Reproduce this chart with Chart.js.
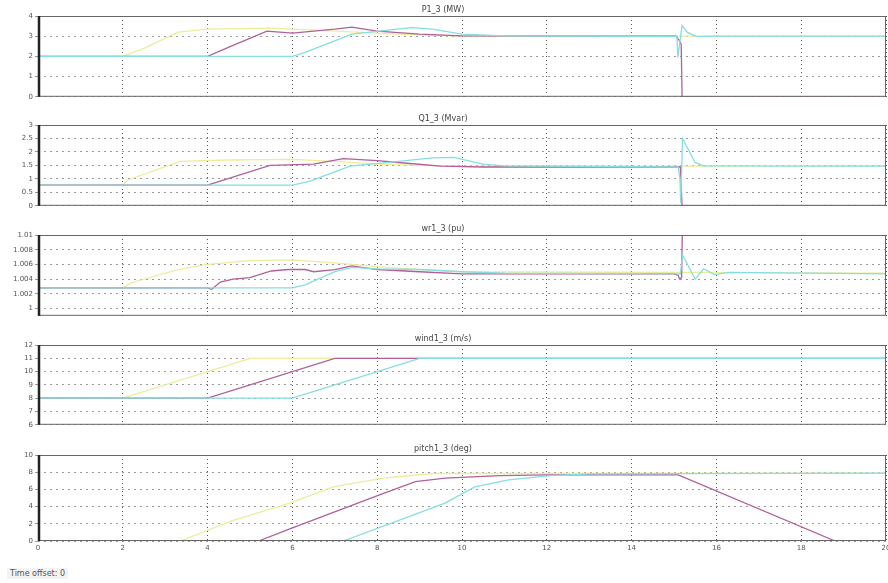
<!DOCTYPE html>
<html lang="en">
<head>
  <meta charset="UTF-8">
  <title>Scope – turbine signals</title>
  <script src="https://cdn.jsdelivr.net/npm/chart.js"></script>
  <style>
    body { margin:0; background:#fff; width:888px; height:583px; position:relative; overflow:hidden; font-family:"DejaVu Sans", sans-serif; }
    canvas { position:absolute; left:0; }
    #offset { position:absolute; left:7px; top:568px; font-size:8px; color:#555; background:#f3f3f3; padding:1px 3px; }
  </style>
</head>
<body>
  <canvas id="c0"></canvas>
  <canvas id="c1"></canvas>
  <canvas id="c2"></canvas>
  <canvas id="c3"></canvas>
  <canvas id="c4"></canvas>
  <div id="offset">Time offset: 0</div>
<script>
// time axis (s)
const xTicks = [0, 2, 4, 6, 8, 10, 12, 14, 16, 18, 20];

// panel titles
const titles = ['P1_3 (MW)', 'Q1_3 (Mvar)', 'wr1_3 (pu)', 'wind1_3 (m/s)', 'pitch1_3 (deg)'];

// y tick values per panel
const pTicks = [0, 1, 2, 3, 4];
const qTicks = [0, 0.5, 1, 1.5, 2, 2.5, 3];
const wrTicks = [1, 1.002, 1.004, 1.006, 1.008, 1.01];
const windTicks = [6, 7, 8, 9, 10, 11, 12];
const pitchTicks = [0, 2, 4, 6, 8, 10];

// series as [t, value] pairs
const pYellow = [[0,0],[0.02,2],[2,2],[2.5,2.4],[3.3,3.2],[4,3.35],[5.5,3.4],[6.5,3.3],[7.5,3.2],[8.5,3.1],[10,3.0],[20,3.0]];
const pMagenta = [[0,0],[0.02,2],[4,2],[4.6,2.55],[5.4,3.25],[6,3.15],[7,3.35],[7.4,3.45],[8,3.25],[9,3.1],[10,3.02],[15.05,3.0],[15.12,2.8],[15.17,2.6],[15.19,0],[20,0]];
const pCyan = [[0,0],[0.02,2],[6,2],[6.3,2.2],[7.4,3.1],[8.1,3.26],[8.8,3.42],[9.3,3.35],[10,3.1],[11,3.02],[15.07,2.98],[15.09,1.95],[15.19,3.53],[15.31,3.2],[15.54,2.98],[16,3.0],[20,3.0]];

const qYellow = [[0,0.77],[2,0.77],[2.1,0.95],[3.35,1.65],[4.5,1.7],[6,1.72],[7,1.65],[8,1.55],[9,1.5],[10,1.47],[20,1.47]];
const qMagenta = [[0,0.77],[4,0.77],[5.47,1.5],[6.5,1.55],[7.2,1.75],[8,1.68],[8.7,1.58],[9.5,1.47],[10.5,1.44],[15.15,1.44],[15.19,0],[20,0]];
const qCyan = [[0,0.77],[6,0.77],[6.4,0.91],[7.36,1.47],[8.5,1.65],[9.3,1.78],[9.8,1.8],[10.5,1.55],[11,1.48],[15.1,1.44],[15.14,1.0],[15.16,0.1],[15.2,2.5],[15.3,2.2],[15.5,1.6],[15.7,1.48],[20,1.47]];

const wrYellow = [[0,1.0028],[2,1.0028],[2.2,1.0035],[3.3,1.0053],[4,1.006],[5,1.0065],[6,1.0066],[7,1.0062],[8,1.0057],[9,1.0053],[10,1.005],[20,1.0048]];
const wrMagenta = [[0,1.0028],[4,1.0028],[4.1,1.0026],[4.3,1.0036],[4.6,1.004],[5,1.0042],[5.5,1.0051],[5.9,1.0053],[6.3,1.0053],[6.5,1.005],[7,1.0053],[7.4,1.0058],[8,1.0053],[9,1.005],[10,1.0047],[15,1.0047],[15.1,1.0045],[15.13,1.004],[15.18,1.0042],[15.2,1.012],[20,1.012]];
const wrCyan = [[0,1.0028],[6,1.0028],[6.3,1.0032],[7,1.005],[7.4,1.0056],[8,1.0054],[9,1.0053],[10,1.005],[11,1.0048],[15.15,1.0047],[15.2,1.0073],[15.5,1.004],[15.7,1.0054],[15.95,1.0046],[16.3,1.0049],[20,1.0047]];

const windYellow = [[0,8],[2,8],[5,11],[20,11]];
const windMagenta = [[0,8],[4,8],[7,11],[20,11]];
const windCyan = [[0,8],[6,8],[9,11],[20,11]];

const pitchYellow = [[0,0],[3.35,0],[4.6,2.4],[5.94,4.4],[6.96,6.3],[8.14,7.3],[9.3,7.85],[20,7.9]];
const pitchMagenta = [[0,0],[5.2,0],[5.94,1.4],[8.07,5.4],[8.9,6.9],[9.6,7.3],[10.9,7.6],[12,7.7],[15.1,7.7],[18.8,0],[20,0]];
const pitchCyan = [[0,0],[7.2,0],[9.6,4.4],[10.3,6.3],[11.1,7.1],[12.1,7.6],[13,7.8],[20,7.9]];

const YELLOW = '#ecec9c', MAGENTA = '#b0609c', CYAN = '#86dede';

// frame box top/bottom of each plot area in the page
const panelTop = [16, 125, 235, 345, 455];
const panelBot = [102, 211, 321, 430, 541];

const panels = [
  { ticks: pTicks, min: 0, max: 4, series: [pCyan, pMagenta, pYellow] },
  { ticks: qTicks, min: 0, max: 3, series: [qCyan, qMagenta, qYellow] },
  { ticks: wrTicks, min: 0.999, max: 1.01, series: [wrCyan, wrMagenta, wrYellow] },
  { ticks: windTicks, min: 6, max: 12, series: [windCyan, windMagenta, windYellow] },
  { ticks: pitchTicks, min: 0, max: 10, series: [pitchCyan, pitchMagenta, pitchYellow] }
];

const framePlugin = {
  id: 'frame',
  afterDraw(chart) {
    const a = chart.chartArea, ctx = chart.ctx;
    ctx.save();
    ctx.strokeStyle = '#666';
    ctx.lineWidth = 1;
    ctx.strokeRect(a.left + 0.5, a.top + 0.5, a.right - a.left - 1, a.bottom - a.top - 1);
    ctx.strokeStyle = '#222';
    ctx.lineWidth = 2.5;
    ctx.beginPath();
    ctx.moveTo(a.left + 1, a.top);
    ctx.lineTo(a.left + 1, a.bottom);
    ctx.stroke();
    ctx.restore();
  }
};

const TITLE_H = 16;

panels.forEach((p, i) => {
  const last = i === panels.length - 1;
  const xh = last ? 14 : 1;
  const cv = document.getElementById('c' + i);
  // bottom panel is a bit wider so the "20" label does not squeeze the plot
  cv.width = last ? 896 : 888;
  cv.height = (panelBot[i] - panelTop[i]) + TITLE_H + xh;
  cv.style.top = (panelTop[i] - TITLE_H) + 'px';
  const colors = [CYAN, MAGENTA, YELLOW];
  new Chart(cv, {
    type: 'line',
    data: {
      datasets: p.series.map((s, k) => ({
        data: s.map(d => ({ x: d[0], y: d[1] })),
        borderColor: colors[k],
        borderWidth: 1.3,
        pointRadius: 0,
        tension: 0,
        fill: false
      }))
    },
    options: {
      responsive: false,
      animation: false,
      layout: { padding: { left: 0, right: last ? 10 : 2, top: 0, bottom: 0 } },
      plugins: {
        legend: { display: false },
        tooltip: { enabled: false },
        title: {
          display: true, text: titles[i], color: '#444',
          font: { size: 8, family: 'DejaVu Sans', weight: 'normal', lineHeight: 1.25 },
          padding: { top: 5, bottom: 1 }
        }
      },
      scales: {
        x: {
          type: 'linear', min: 0, max: 20,
          afterBuildTicks: sc => { sc.ticks = xTicks.map(v => ({ value: v })); },
          afterFit: sc => { sc.height = xh; },
          grid: { color: '#555', drawTicks: false, lineWidth: 1 },
          border: { display: false, dash: [1, 3] },
          ticks: {
            display: last, color: '#555', padding: 3, maxRotation: 0,
            font: { size: 7, family: 'DejaVu Sans' }
          }
        },
        y: {
          min: p.min, max: p.max,
          afterBuildTicks: sc => { sc.ticks = p.ticks.map(v => ({ value: v })); },
          afterFit: sc => { sc.width = 38; },
          grid: { color: '#999', drawTicks: true, tickLength: 3, lineWidth: 1 },
          border: { display: false, dash: [2, 4] },
          ticks: {
            color: '#555', padding: 2,
            font: { size: 7, family: 'DejaVu Sans' },
            callback: v => String(Number(v.toFixed(4)))
          }
        }
      }
    },
    plugins: [framePlugin]
  });
});
</script>
</body>
</html>
